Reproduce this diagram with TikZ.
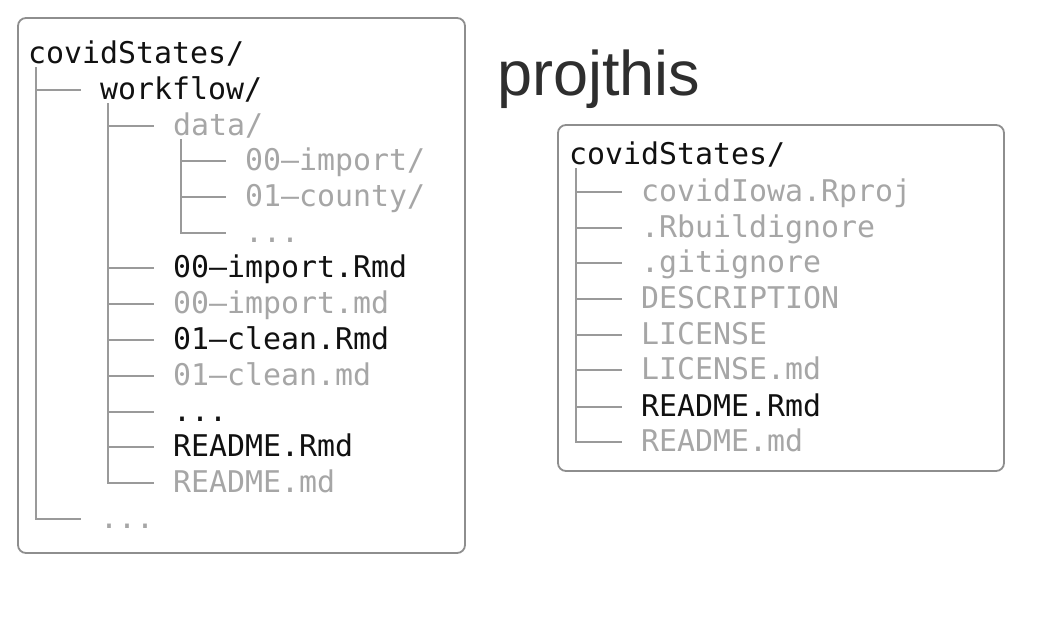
\documentclass[tikz,border=0pt]{standalone}
\usepackage{fontspec}
\setmonofont{DejaVu Sans Mono}
\setsansfont{Liberation Sans}
\definecolor{txtdark}{HTML}{111111}
\definecolor{txtgray}{HTML}{A6A6A6}
\definecolor{treeline}{HTML}{9A9A9A}
\definecolor{boxline}{HTML}{8E8E8E}
\definecolor{titlecol}{HTML}{2E2E2E}
\begin{document}
\begin{tikzpicture}[x=1pt,y=-1pt,
  entry/.style={anchor=west,inner sep=0pt,text height=24pt,text depth=6pt,
    font=\ttfamily\fontsize{29.9}{36}\selectfont},
  dark/.style={entry,text=txtdark},
  light/.style={entry,text=txtgray},
  branch/.style={draw=treeline,line width=1.3pt},
  panel/.style={draw=boxline,line width=1.8pt,rounded corners=8pt}]
\useasboundingbox (0,0) rectangle (1064,616);
% panels
\draw[panel] (18,18) rectangle (465,553);
\draw[panel] (558,125) rectangle (1004,471);
% title
\node[anchor=base west,inner sep=0pt,text=titlecol,font=\sffamily\fontsize{63}{72}\selectfont] (title) at (497,95) {projthis};
% left tree
\node[dark]  (L0)  at (28,54)   {covidStates/};
\node[dark]  (L1)  at (100,90)  {workflow/};
\node[light] (L2)  at (173,126) {data/};
\node[light] (L3)  at (245,161) {00–import/};
\node[light] (L4)  at (245,197) {01–county/};
\node[light] (L5)  at (245,233) {...};
\node[dark]  (L6)  at (173,268) {00–import.Rmd};
\node[light] (L7)  at (173,304) {00–import.md};
\node[dark]  (L8)  at (173,340) {01–clean.Rmd};
\node[light] (L9)  at (173,376) {01–clean.md};
\node[dark]  (L10) at (173,412) {...};
\node[dark]  (L11) at (173,447) {README.Rmd};
\node[light] (L12) at (173,483) {README.md};
\node[light] (L13) at (100,519) {...};
% level-1 lines
\coordinate (v0) at ([xshift=8pt]L0.south west);
\draw[branch] ([yshift=2pt]v0) -- (v0 |- L13.west) -- ([xshift=-19pt]L13.west);
\draw[branch] (v0 |- L1.west) -- ([xshift=-19pt]L1.west);
% level-2 lines
\coordinate (v1) at ([xshift=8pt]L1.south west);
\draw[branch] ([yshift=2pt]v1) -- (v1 |- L12.west) -- ([xshift=-19pt]L12.west);
\foreach \n in {L2,L6,L7,L8,L9,L10,L11}
  \draw[branch] (v1 |- \n.west) -- ([xshift=-19pt]\n.west);
% level-3 lines
\coordinate (v2) at ([xshift=8pt]L2.south west);
\draw[branch] ([yshift=2pt]v2) -- (v2 |- L5.west) -- ([xshift=-19pt]L5.west);
\foreach \n in {L3,L4}
  \draw[branch] (v2 |- \n.west) -- ([xshift=-19pt]\n.west);
% right tree
\node[dark]  (R0) at (569,155) {covidStates/};
\node[light] (R1) at (641,192) {covidIowa.Rproj};
\node[light] (R2) at (641,228) {.Rbuildignore};
\node[light] (R3) at (641,263) {.gitignore};
\node[light] (R4) at (641,299) {DESCRIPTION};
\node[light] (R5) at (641,335) {LICENSE};
\node[light] (R6) at (641,370) {LICENSE.md};
\node[dark]  (R7) at (641,407) {README.Rmd};
\node[light] (R8) at (641,442) {README.md};
\coordinate (vr) at ([xshift=7pt]R0.south west);
\draw[branch] ([yshift=2pt]vr) -- (vr |- R8.west) -- ([xshift=-19pt]R8.west);
\foreach \n in {R1,R2,R3,R4,R5,R6,R7}
  \draw[branch] (vr |- \n.west) -- ([xshift=-19pt]\n.west);
\end{tikzpicture}
\end{document}
